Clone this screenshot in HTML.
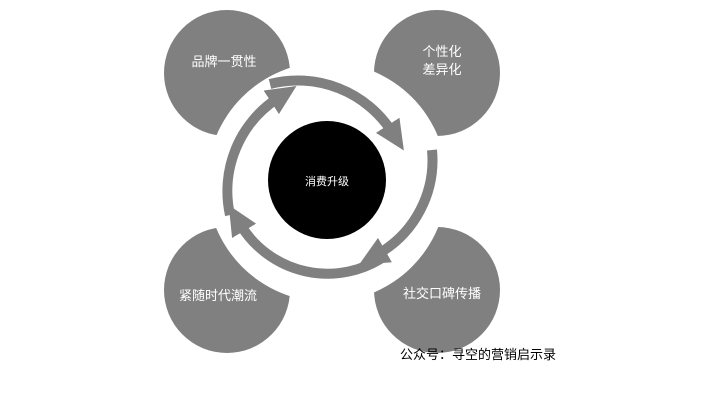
<!DOCTYPE html>
<html><head><meta charset="utf-8"><style>
body{margin:0;background:#fff;width:720px;height:405px;overflow:hidden;font-family:"Liberation Sans","Noto Sans CJK SC",sans-serif}
</style></head><body>
<svg width="720" height="405" xmlns="http://www.w3.org/2000/svg" style="position:absolute;left:0;top:0">
<defs>
<marker id="ah" markerWidth="4" markerHeight="4" refX="0.8" refY="1.4" orient="auto" markerUnits="strokeWidth">
<path d="M0,0 L3,1.4 L0,2.8 Z" fill="#808080"/></marker>
</defs>
<g fill="#808080">
<circle cx="227" cy="73" r="63"/>
<circle cx="437" cy="73" r="63"/>
<circle cx="227" cy="290" r="63"/>
<circle cx="437" cy="290" r="63"/>
</g>
<circle cx="327" cy="182" r="120" fill="#fff"/>
<g fill="none" stroke="#808080" stroke-width="10">
<path d="M270,84 A112,112 0 0 1 392,132" marker-end="url(#ah)"/>
<path d="M432,150 A108,108 0 0 1 378,254" marker-end="url(#ah)"/>
<path d="M385,256 A102,102 0 0 1 240,224" marker-end="url(#ah)"/>
<path d="M230,215 A111,111 0 0 1 278,98" marker-end="url(#ah)"/>
</g>
<circle cx="327" cy="180" r="59" fill="#000"/>
<g fill="#fff" font-size="13" text-anchor="middle" font-family="Liberation Sans, Noto Sans CJK SC, sans-serif">
<text x="327" y="185" font-size="11">消费升级</text>
<text x="224" y="66">品牌一贯性</text>
<text x="442" y="56">个性化</text>
<text x="442" y="74">差异化</text>
<text x="218" y="300">紧随时代潮流</text>
<text x="442" y="298">社交口碑传播</text>
</g>
<text x="400" y="359" font-size="13" fill="#000" font-family="Liberation Sans, Noto Sans CJK SC, sans-serif">公众号：寻空的营销启示录</text>
</svg>
</body></html>
